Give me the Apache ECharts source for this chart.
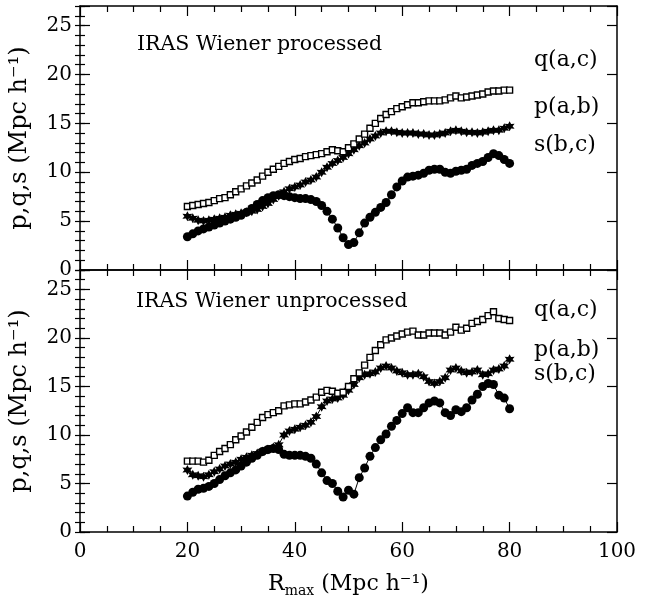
<!DOCTYPE html>
<html>
<head>
<meta charset="utf-8">
<script src="https://cdn.jsdelivr.net/npm/echarts@6/dist/echarts.min.js"></script>
<style>html,body{margin:0;padding:0;background:#fff}#c{width:663px;height:599px}</style>
</head>
<body>
<div id="c"></div>
<script>
// x positions (R_max, Mpc/h)
var rmax = [];
for (var i = 20; i <= 80; i++) rmax.push(i);

// Top panel: IRAS Wiener processed
var qTop = [6.5,6.6,6.7,6.8,6.9,7.1,7.3,7.4,7.7,8.0,8.3,8.6,8.9,9.2,9.6,10.0,10.3,10.6,10.9,11.1,11.3,11.4,11.6,11.7,11.8,11.9,12.1,12.3,12.2,12.1,12.5,12.9,13.4,13.9,14.5,15.0,15.5,15.9,16.2,16.5,16.7,16.9,17.1,17.1,17.2,17.3,17.3,17.3,17.4,17.6,17.8,17.6,17.7,17.8,17.9,18.0,18.2,18.3,18.3,18.4,18.4];
var pTop = [5.5,5.3,5.1,5.0,5.1,5.2,5.3,5.4,5.6,5.7,5.8,5.9,6.0,6.2,6.5,6.8,7.2,7.6,8.0,8.3,8.5,8.7,9.0,9.2,9.5,10.0,10.5,10.9,11.2,11.5,11.9,12.3,12.7,13.0,13.4,13.7,14.0,14.2,14.2,14.1,14.0,14.0,14.0,13.9,13.9,13.8,13.8,13.9,14.0,14.2,14.3,14.2,14.1,14.1,14.0,14.1,14.2,14.3,14.3,14.5,14.7];
var sTop = [3.4,3.7,4.0,4.2,4.4,4.6,4.8,5.0,5.2,5.4,5.6,5.9,6.3,6.7,7.1,7.4,7.6,7.7,7.6,7.5,7.4,7.3,7.3,7.2,7.0,6.6,6.0,5.2,4.3,3.3,2.6,2.8,3.8,4.8,5.4,5.9,6.4,6.9,7.7,8.5,9.1,9.5,9.6,9.7,9.9,10.2,10.3,10.3,10.0,9.9,10.1,10.2,10.3,10.7,10.9,11.1,11.5,11.9,11.7,11.3,10.9];

// Bottom panel: IRAS Wiener unprocessed
var qBot = [7.3,7.3,7.3,7.2,7.4,7.9,8.3,8.6,9.0,9.5,9.9,10.3,10.8,11.3,11.8,12.1,12.3,12.5,13.0,13.1,13.2,13.2,13.4,13.6,13.9,14.4,14.6,14.5,14.3,14.4,15.0,15.8,16.4,17.2,18.0,18.7,19.3,19.8,20.0,20.2,20.4,20.6,20.7,20.3,20.3,20.5,20.5,20.5,20.3,20.6,21.1,20.8,21.0,21.5,21.7,21.9,22.3,22.7,22.0,21.9,21.8];
var pBot = [6.4,5.9,5.8,5.7,5.9,6.2,6.5,6.8,7.0,7.2,7.5,7.7,7.9,8.1,8.3,8.5,8.7,9.0,10.0,10.4,10.6,10.8,11.0,11.3,11.9,12.9,13.5,13.7,13.8,14.1,14.6,15.2,15.9,16.2,16.3,16.5,16.9,17.1,16.9,16.6,16.4,16.2,16.2,16.3,16.0,15.5,15.3,15.5,15.9,16.7,16.9,16.6,16.4,16.5,16.7,16.2,16.3,16.7,16.8,17.1,17.8];
var sBot = [3.7,4.1,4.4,4.5,4.7,5.0,5.4,5.8,6.1,6.4,6.8,7.2,7.6,7.9,8.3,8.5,8.6,8.5,8.0,7.9,7.9,7.9,7.8,7.6,7.0,6.1,5.3,5.0,4.2,3.6,4.3,3.9,5.6,6.6,7.8,8.7,9.5,10.1,10.9,11.5,12.2,12.8,12.3,12.3,12.8,13.3,13.5,13.3,12.3,12.0,12.6,12.4,12.8,13.6,14.2,15.0,15.3,15.2,14.1,13.8,12.7];

var panelTitles = ['IRAS Wiener processed', 'IRAS Wiener unprocessed'];
var seriesNames = ['q(a,c)', 'p(a,b)', 's(b,c)'];

function pairs(ys) { return ys.map(function (y, i) { return [rmax[i], y]; }); }

var FONT = 'DejaVu Serif';
var STAR = 'path://M0,-10 L2.6,-4.5 L8.66,-5 L5.2,0 L8.66,5 L2.6,4.5 L0,10 L-2.6,4.5 L-8.66,5 L-5.2,0 L-8.66,-5 L-2.6,-4.5 Z';

var grids = [
  {left: 80, right: 46, top: 6, height: 264},
  {left: 80, right: 46, top: 270, height: 264}
];

var xAxes = [], yAxes = [];
grids.forEach(function (g, gi) {
  var lineStyle = {color: '#000', width: 1.5};
  xAxes.push({
    gridIndex: gi, type: 'value', min: 0, max: 100, interval: 20, position: 'bottom',
    axisLine: {show: true, onZero: false, lineStyle: lineStyle},
    axisTick: {show: true, inside: true, length: 10, lineStyle: {color: '#000', width: 1.2}},
    minorTick: {show: true, splitNumber: 4, length: 6, lineStyle: {color: '#000', width: 1.2}},
    splitLine: {show: false},
    axisLabel: {show: gi === 1, color: '#000', fontFamily: FONT, fontSize: 20, margin: 10},
    name: gi === 1 ? '{a|R}{b|max}{a| (Mpc h\u207B\u00B9)}' : '',
    nameLocation: 'middle', nameGap: 38,
    nameTextStyle: {rich: {
      a: {fontFamily: FONT, fontSize: 22, color: '#000'},
      b: {fontFamily: FONT, fontSize: 14, color: '#000', padding: [14, 0, 0, 0]}
    }}
  });
  xAxes.push({
    gridIndex: gi, type: 'value', min: 0, max: 100, interval: 20, position: 'top',
    axisLine: {show: true, onZero: false, lineStyle: lineStyle},
    axisTick: {show: true, inside: true, length: 10, lineStyle: {color: '#000', width: 1.2}},
    minorTick: {show: true, splitNumber: 4, length: 6, lineStyle: {color: '#000', width: 1.2}},
    splitLine: {show: false}, axisLabel: {show: false}
  });
  yAxes.push({
    gridIndex: gi, type: 'value', min: 0, max: 27, interval: 5, position: 'left',
    axisLine: {show: true, onZero: false, lineStyle: lineStyle},
    axisTick: {show: true, inside: true, length: 10, lineStyle: {color: '#000', width: 1.2}},
    splitLine: {show: false},
    axisLabel: {show: true, color: '#000', fontFamily: FONT, fontSize: 20, margin: 8,
      formatter: function (v) { return v % 5 === 0 ? String(v) : ''; }},
    name: 'p,q,s (Mpc h\u207B\u00B9)', nameLocation: 'middle', nameRotate: 90, nameGap: 48,
    nameTextStyle: {fontFamily: FONT, fontSize: 24, color: '#000'}
  });
  yAxes.push({
    gridIndex: gi, type: 'value', min: 0, max: 27, interval: 1, position: 'left',
    axisLine: {show: false},
    axisTick: {show: true, inside: true, length: 5, lineStyle: {color: '#000', width: 1.2}},
    splitLine: {show: false}, axisLabel: {show: false}
  });
  yAxes.push({
    gridIndex: gi, type: 'value', min: 0, max: 27, interval: 5, position: 'right',
    axisLine: {show: true, onZero: false, lineStyle: lineStyle},
    axisTick: {show: true, inside: true, length: 10, lineStyle: {color: '#000', width: 1.2}},
    splitLine: {show: false}, axisLabel: {show: false}
  });
  yAxes.push({
    gridIndex: gi, type: 'value', min: 0, max: 27, interval: 1, position: 'right',
    axisLine: {show: false},
    axisTick: {show: true, inside: true, length: 5, lineStyle: {color: '#000', width: 1.2}},
    splitLine: {show: false}, axisLabel: {show: false}
  });
});

function mk(name, data, gi, kind) {
  var s = {
    name: name, type: 'line', xAxisIndex: gi * 2, yAxisIndex: gi * 4,
    data: pairs(data), animation: false, silent: true,
    lineStyle: {color: '#000', width: 1}
  };
  if (kind === 'q') {
    s.symbol = 'rect'; s.symbolSize = 6;
    s.itemStyle = {color: '#fff', borderColor: '#000', borderWidth: 1.4};
  } else if (kind === 'p') {
    s.symbol = STAR; s.symbolSize = 10;
    s.itemStyle = {color: '#000', borderColor: '#000', borderWidth: 0};
  } else {
    s.symbol = 'circle'; s.symbolSize = 9;
    s.itemStyle = {color: '#000', borderColor: '#000', borderWidth: 0};
  }
  return s;
}

var series = [
  mk(seriesNames[2], sTop, 0, 's'),
  mk(seriesNames[1], pTop, 0, 'p'),
  mk(seriesNames[0], qTop, 0, 'q'),
  mk(seriesNames[2], sBot, 1, 's'),
  mk(seriesNames[1], pBot, 1, 'p'),
  mk(seriesNames[0], qBot, 1, 'q')
];

function txt(x, y, t, size) {
  return {type: 'text', left: x, top: y, style: {text: t, fill: '#000', font: size + 'px "' + FONT + '"'}};
}

var graphics = [
  txt(137, 34, panelTitles[0], 20.5),
  txt(136, 291, panelTitles[1], 20.5),
  txt(534, 49, seriesNames[0], 22),
  txt(534, 96, seriesNames[1], 22),
  txt(534, 134, seriesNames[2], 22),
  txt(534, 299, seriesNames[0], 22),
  txt(534, 339, seriesNames[1], 22),
  txt(534, 363, seriesNames[2], 22)
];

var chart = echarts.init(document.getElementById('c'), null, {renderer: 'canvas'});
chart.setOption({
  backgroundColor: '#fff',
  animation: false,
  grid: grids,
  xAxis: xAxes,
  yAxis: yAxes,
  series: series,
  graphic: graphics
});
</script>
</body>
</html>
